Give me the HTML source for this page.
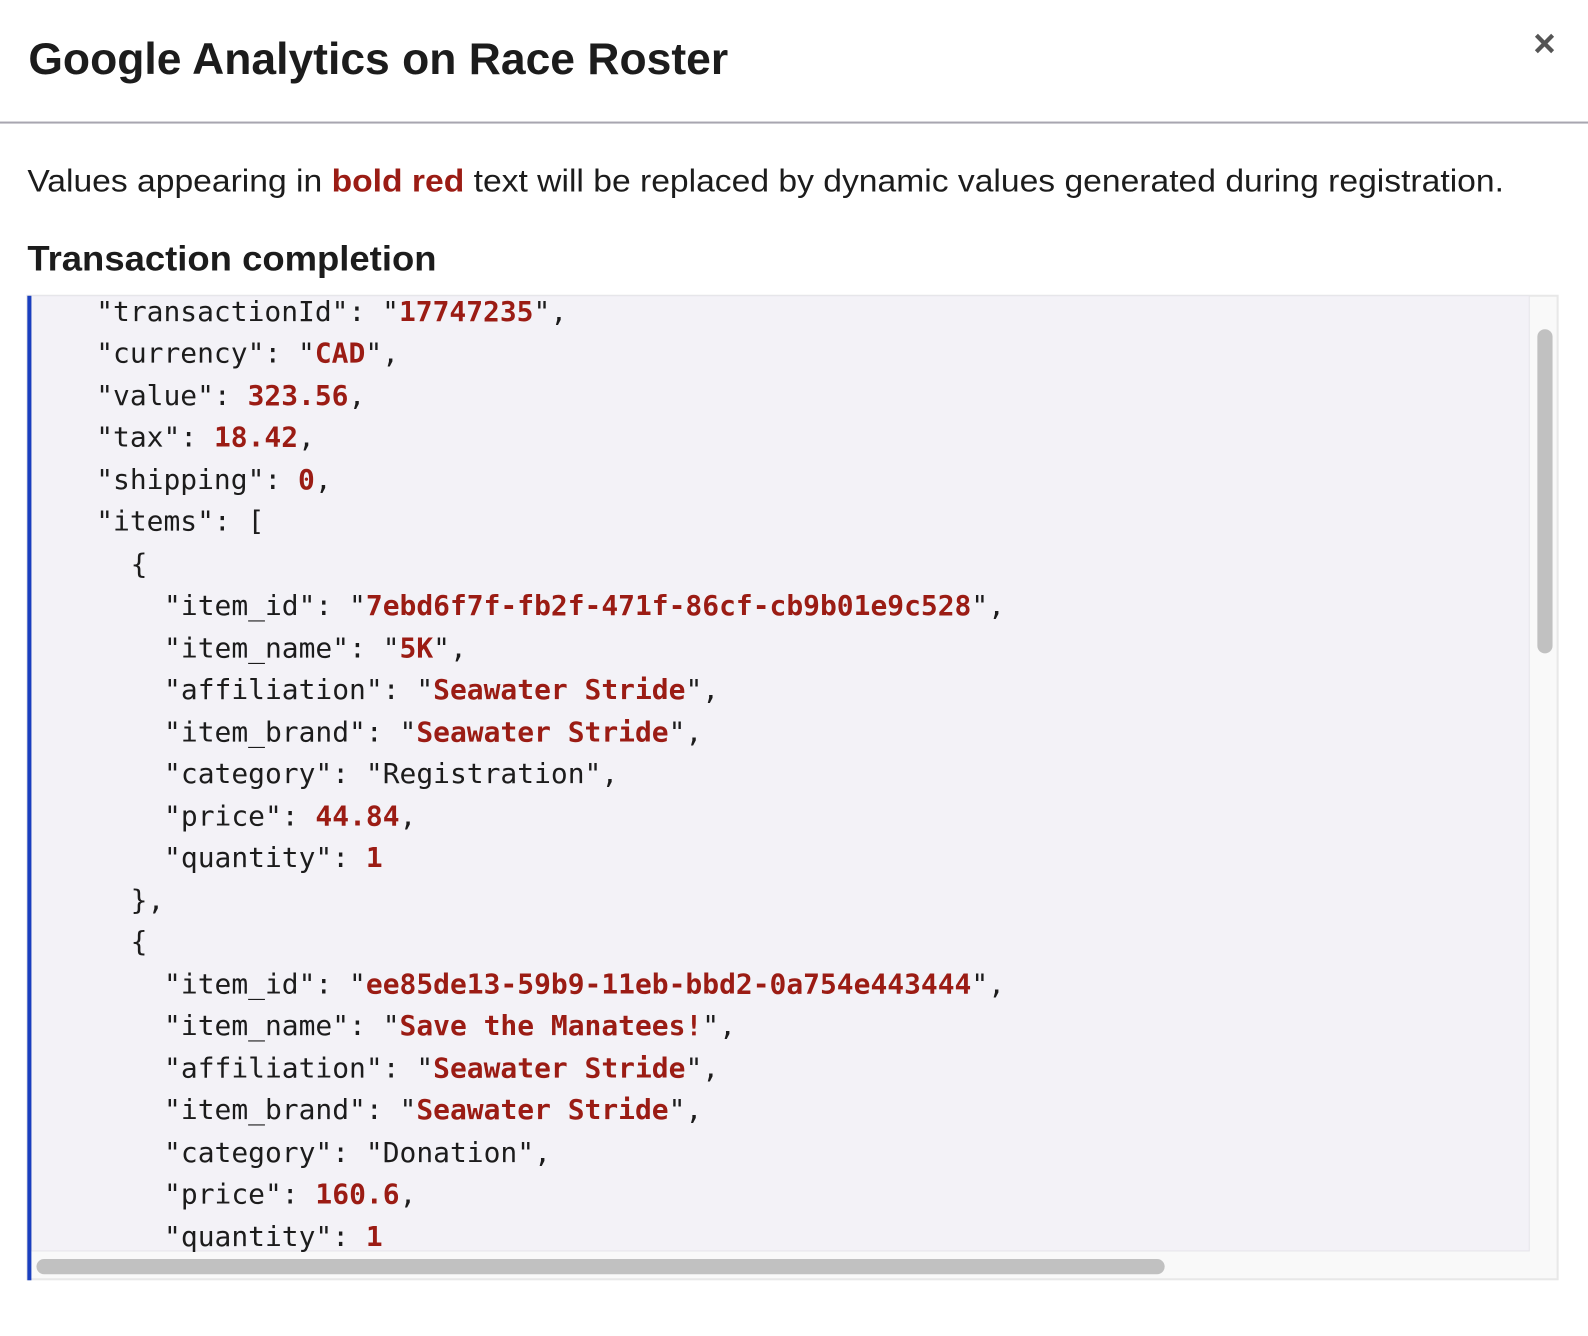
<!DOCTYPE html>
<html><head><meta charset="utf-8"><style>
html,body{margin:0;padding:0;background:#fff;width:1588px;height:1336px;overflow:hidden}
svg{display:block}
.t{font-family:"Liberation Sans",sans-serif;fill:#1c1c1c}
.c{font-family:"DejaVu Sans Mono","Liberation Mono",monospace;font-size:27.6px;fill:#1c1c1c;white-space:pre}
.r{fill:#9b1c14;font-weight:bold}
</style></head><body>
<svg width="1588" height="1336" viewBox="0 0 1568 1319" preserveAspectRatio="none" xmlns="http://www.w3.org/2000/svg">
<text class="t" x="28" y="73" font-size="44" font-weight="bold" textLength="691" lengthAdjust="spacingAndGlyphs">Google Analytics on Race Roster</text>
<text x="1525" y="56" text-anchor="middle" font-family="Liberation Sans,sans-serif" font-size="38" font-weight="bold" fill="#555">×</text>
<rect x="0" y="120" width="1568" height="2" fill="#a8a6b0"/>
<text class="t" x="27" y="189" font-size="31" textLength="1458" lengthAdjust="spacingAndGlyphs">Values appearing in <tspan fill="#9b1c14" font-weight="bold">bold red</tspan> text will be replaced by dynamic values generated during registration.</text>
<text class="t" x="27" y="267" font-size="35" font-weight="bold" textLength="404" lengthAdjust="spacingAndGlyphs">Transaction completion</text>
<rect x="27" y="292" width="1511" height="971" fill="#f9f9f9" stroke="#e8e8e8" stroke-width="2"/>
<rect x="31" y="292" width="1479" height="943" fill="#f3f2f7" stroke="#e6e5ea" stroke-width="1"/>
<rect x="27" y="292" width="4" height="972" fill="#1a3fbf"/>
<rect x="1518" y="325" width="15" height="320" rx="7.5" fill="#c1c1c1"/>
<rect x="36" y="1243" width="1114" height="15" rx="7.5" fill="#c1c1c1"/>
<g class="c">
<text x="95" y="317">"transactionId": "<tspan class="r">17747235</tspan>",</text>
<text x="95" y="358">"currency": "<tspan class="r">CAD</tspan>",</text>
<text x="95" y="400">"value": <tspan class="r">323.56</tspan>,</text>
<text x="95" y="441">"tax": <tspan class="r">18.42</tspan>,</text>
<text x="95" y="483">"shipping": <tspan class="r">0</tspan>,</text>
<text x="95" y="524">"items": [</text>
<text x="129" y="566">{</text>
<text x="162" y="607">"item_id": "<tspan class="r">7ebd6f7f-fb2f-471f-86cf-cb9b01e9c528</tspan>",</text>
<text x="162" y="649">"item_name": "<tspan class="r">5K</tspan>",</text>
<text x="162" y="690">"affiliation": "<tspan class="r">Seawater Stride</tspan>",</text>
<text x="162" y="732">"item_brand": "<tspan class="r">Seawater Stride</tspan>",</text>
<text x="162" y="773">"category": "Registration",</text>
<text x="162" y="815">"price": <tspan class="r">44.84</tspan>,</text>
<text x="162" y="856">"quantity": <tspan class="r">1</tspan></text>
<text x="129" y="898">},</text>
<text x="129" y="939">{</text>
<text x="162" y="981">"item_id": "<tspan class="r">ee85de13-59b9-11eb-bbd2-0a754e443444</tspan>",</text>
<text x="162" y="1022">"item_name": "<tspan class="r">Save the Manatees!</tspan>",</text>
<text x="162" y="1064">"affiliation": "<tspan class="r">Seawater Stride</tspan>",</text>
<text x="162" y="1105">"item_brand": "<tspan class="r">Seawater Stride</tspan>",</text>
<text x="162" y="1147">"category": "Donation",</text>
<text x="162" y="1188">"price": <tspan class="r">160.6</tspan>,</text>
<text x="162" y="1230">"quantity": <tspan class="r">1</tspan></text>
</g>
</svg>
</body></html>
